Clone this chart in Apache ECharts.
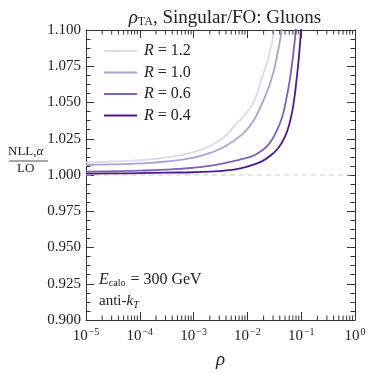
<!DOCTYPE html>
<html>
<head>
<meta charset="utf-8">
<script src="https://cdn.jsdelivr.net/npm/echarts@6/dist/echarts.min.js"></script>
<style>
  html, body { margin: 0; padding: 0; background: #fff; }
  #chart { width: 374px; height: 374px; }
</style>
</head>
<body>
<div id="chart"></div>
<script>
// values: [rho, NLL,alpha / LO]
const curveR12 = [[1e-5,1.0085],[3e-5,1.0093],[1e-4,1.0103],[3e-4,1.0120],[1e-3,1.0158],[2e-3,1.0200],[3.8e-3,1.0266],[6e-3,1.0345],[9e-3,1.0415],[1.35e-2,1.0515],[1.85e-2,1.0667],[2.5e-2,1.0820],[3.2e-2,1.1010]];
const curveR10 = [[1e-5,1.0069],[3e-5,1.0073],[1e-4,1.0080],[3e-4,1.0093],[1e-3,1.0120],[2e-3,1.0152],[3.8e-3,1.0197],[7.8e-3,1.0277],[1.2e-2,1.0355],[1.6e-2,1.0438],[2.1e-2,1.0535],[2.83e-2,1.0667],[3.6e-2,1.0830],[4.4e-2,1.1010]];
const curveR06 = [[1e-5,1.0023],[3e-5,1.0026],[1e-4,1.0030],[3e-4,1.0037],[1e-3,1.0050],[2e-3,1.0063],[3.8e-3,1.0082],[7e-3,1.0105],[1.2e-2,1.0128],[1.8e-2,1.0165],[2.44e-2,1.0208],[3.3e-2,1.0285],[4.34e-2,1.0390],[5.2e-2,1.0510],[6.2e-2,1.0667],[7e-2,1.0810],[8e-2,1.1010]];
const curveR04 = [[1e-5,1.0010],[3e-5,1.0011],[1e-4,1.0013],[3e-4,1.0016],[1e-3,1.0019],[2e-3,1.0023],[3.8e-3,1.0030],[7.8e-3,1.0048],[1.2e-2,1.0068],[1.85e-2,1.0094],[2.7e-2,1.0135],[3.75e-2,1.0186],[5e-2,1.0265],[6.2e-2,1.0369],[7.2e-2,1.0490],[8.25e-2,1.0667],[9.1e-2,1.0820],[1e-1,1.1010]];
const refLine = [[1e-5,1.0],[0.8,1.0]];

const seriesNames = ['R = 1.2', 'R = 1.0', 'R = 0.6', 'R = 0.4'];
const seriesColors = ['#dcdaeb', '#a9a3d0', '#7a64b8', '#4d1a90'];
const curves = [curveR12, curveR10, curveR06, curveR04];

const xMin = 1e-5, xMax = 1;
const yMin = 0.9, yMax = 1.1;

// log minor ticks 2..9 x 10^k
const minorX = [];
for (let k = -5; k < 0; k++) {
  for (let m = 2; m <= 9; m++) minorX.push([m * Math.pow(10, k), yMin]);
}

const serif = 'Liberation Serif';
const ink = '#222';

function supLabel(v) {
  const e = Math.round(Math.log10(v));
  return '10{sup|' + (e < 0 ? '\u2212' + (-e) : e) + '}';
}

const chart = echarts.init(document.getElementById('chart'));

const lineSeries = curves.map((d, i) => ({
  name: seriesNames[i],
  type: 'line',
  data: d,
  symbol: 'none',
  smooth: 0.5,
  lineStyle: { color: seriesColors[i], width: 1.8 },
  itemStyle: { color: seriesColors[i] },
  z: 3 + i
}));

chart.setOption({
  animation: false,
  textStyle: { fontFamily: serif },
  title: {
    text: '{i|\u03c1}{sub|TA}, Singular/FO: Gluons',
    left: 220, top: 3, textAlign: 'center',
    textStyle: {
      fontFamily: serif, fontSize: 19, fontWeight: 'normal', color: ink,
      rich: {
        i: { fontFamily: serif, fontStyle: 'italic', fontSize: 19, color: ink },
        sub: { fontFamily: serif, fontSize: 12, color: ink, padding: [8, 0, 0, 0] }
      }
    }
  },
  legend: {
    orient: 'vertical', left: 99, top: 38,
    icon: 'rect', itemWidth: 33, itemHeight: 2, itemGap: 5.5,
    data: seriesNames,
    formatter: (n) => '{i|R}' + n.slice(1),
    textStyle: {
      fontFamily: serif, fontSize: 16, lineHeight: 16, color: ink, padding: [0, 0, 0, 2],
      rich: { i: { fontFamily: serif, fontStyle: 'italic', fontSize: 16, lineHeight: 16, color: ink } }
    }
  },
  grid: { left: 86, right: 19, top: 30, bottom: 53 },
  xAxis: [{
    type: 'log', logBase: 10, min: xMin, max: xMax,
    name: '\u03c1', nameLocation: 'middle', nameGap: 30,
    nameTextStyle: { fontFamily: serif, fontStyle: 'italic', fontSize: 19, color: ink },
    axisLine: { lineStyle: { color: '#333', width: 1 } },
    axisTick: { inside: true, length: 8, lineStyle: { color: '#333' } },
    splitLine: { show: false },
    axisLabel: {
      margin: 7, showMinLabel: true, showMaxLabel: true, formatter: supLabel,
      fontFamily: serif, fontSize: 15, color: ink,
      rich: { sup: { fontFamily: serif, fontSize: 10, color: ink, padding: [0, 0, 9, 1] } }
    }
  }, {
    type: 'log', logBase: 10, min: xMin, max: xMax, position: 'top',
    axisLine: { lineStyle: { color: '#333', width: 1 } },
    axisTick: { inside: true, length: 8, lineStyle: { color: '#333' } },
    axisLabel: { show: false }, splitLine: { show: false }
  }],
  yAxis: [{
    type: 'value', min: yMin, max: yMax, interval: 0.025,
    axisLine: { show: true, lineStyle: { color: '#333', width: 1 } },
    axisTick: { inside: true, length: 8, lineStyle: { color: '#333' } },
    minorTick: { show: true, splitNumber: 4, length: 4.5, lineStyle: { color: '#333' } },
    splitLine: { show: false },
    axisLabel: {
      margin: 5, formatter: (v) => v.toFixed(3),
      fontFamily: serif, fontSize: 15, color: ink
    }
  }, {
    type: 'value', min: yMin, max: yMax, interval: 0.025, position: 'right',
    axisLine: { show: true, lineStyle: { color: '#333', width: 1 } },
    axisTick: { inside: true, length: 8, lineStyle: { color: '#333' } },
    minorTick: { show: true, splitNumber: 4, length: 4.5, lineStyle: { color: '#333' } },
    splitLine: { show: false }, axisLabel: { show: false }
  }],
  graphic: [
    { type: 'text', left: 8, top: 145, style: { text: 'NLL,{i|\u03b1}', fontFamily: serif, fontSize: 13, fill: ink, width: 40, align: 'center',
      rich: { i: { fontFamily: serif, fontStyle: 'italic', fontSize: 13, fill: ink } } } },
    { type: 'line', shape: { x1: 9, y1: 161, x2: 48, y2: 161 }, style: { stroke: ink, lineWidth: 0.8 } },
    { type: 'text', left: 17, top: 162, style: { text: 'LO', fontFamily: serif, fontSize: 13, fill: ink } },
    { type: 'text', left: 99, top: 272, style: {
      text: '{i|E}{sub|calo} = 300 GeV', fontFamily: serif, fontSize: 16, fill: ink,
      rich: { i: { fontFamily: serif, fontStyle: 'italic', fontSize: 16, fill: ink },
              sub: { fontFamily: serif, fontSize: 10, fill: ink, padding: [7, 1, 0, 0] } } } },
    { type: 'text', left: 99, top: 294, style: {
      text: 'anti-{i|k}{sub|T}', fontFamily: serif, fontSize: 15, fill: ink,
      rich: { i: { fontFamily: serif, fontStyle: 'italic', fontSize: 15, fill: ink },
              sub: { fontFamily: serif, fontStyle: 'italic', fontSize: 10, fill: ink, padding: [7, 0, 0, 0] } } } }
  ],
  series: [{
    name: 'ref', type: 'line', data: refLine, symbol: 'none', silent: true,
    lineStyle: { color: '#cccccc', width: 1.2, type: [5, 4] }, z: 2
  }].concat(lineSeries).concat([{
    name: 'minor', type: 'custom', data: minorX, silent: true, z: 10,
    renderItem: (params, api) => {
      const v = api.value(0);
      const b = api.coord([v, yMin]);
      const t = api.coord([v, yMax]);
      return {
        type: 'group',
        children: [
          { type: 'line', shape: { x1: b[0], y1: b[1], x2: b[0], y2: b[1] - 4.5 }, style: { stroke: '#333', lineWidth: 1 } },
          { type: 'line', shape: { x1: t[0], y1: t[1], x2: t[0], y2: t[1] + 4.5 }, style: { stroke: '#333', lineWidth: 1 } }
        ]
      };
    }
  }])
});
</script>
</body>
</html>
